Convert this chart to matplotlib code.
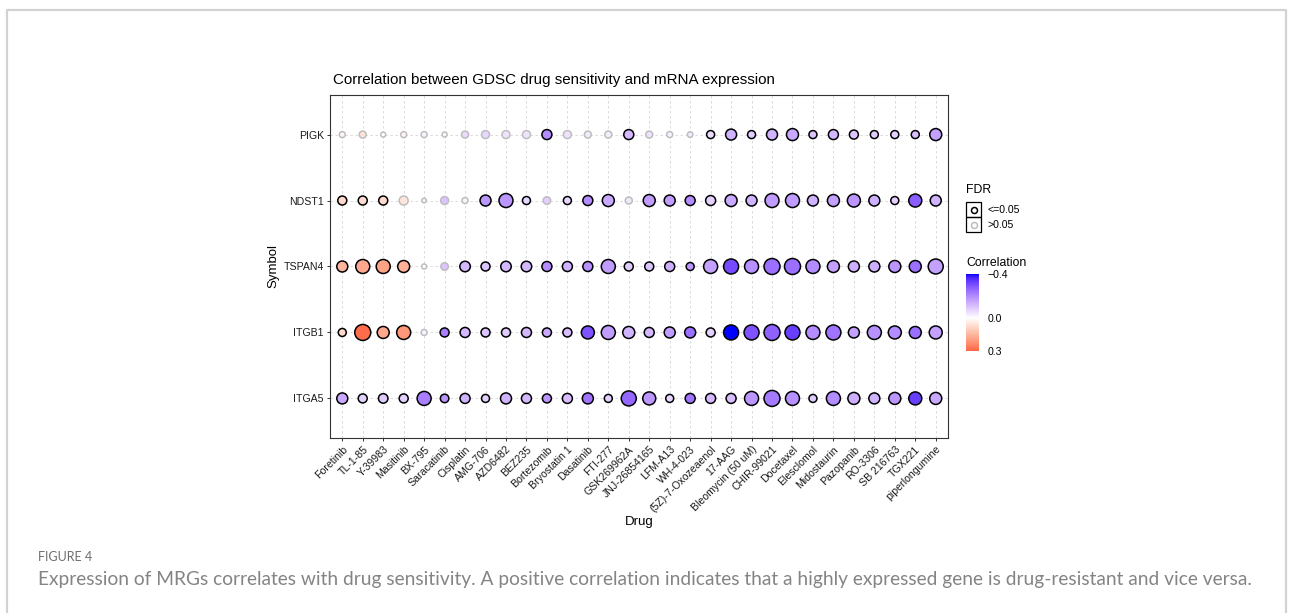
import numpy as np
import matplotlib.pyplot as plt
from matplotlib.colors import ListedColormap, Normalize
from matplotlib.patches import Rectangle

plt.rcParams['font.family'] = ['Liberation Sans', 'DejaVu Sans']

W, H = 1293, 613

drugs = ['Foretinib', 'TL-1-85', 'Y-39983', 'Masitinib', 'BX-795', 'Saracatinib',
         'Cisplatin', 'AMG-706', 'AZD6482', 'BEZ235', 'Bortezomib', 'Bryostatin 1',
         'Dasatinib', 'FTI-277', 'GSK269962A', 'JNJ-26854165', 'LFM-A13', 'WH-4-023',
         '(5Z)-7-Oxozeaenol', '17-AAG', 'Bleomycin (50 uM)', 'CHIR-99021', 'Docetaxel',
         'Elesclomol', 'Midostaurin', 'Pazopanib', 'RO-3306', 'SB 216763', 'TGX221',
         'piperlongumine']

# genes from bottom to top of the panel
genes = ['ITGA5', 'ITGB1', 'TSPAN4', 'NDST1', 'PIGK']

# Spearman correlation per gene
cor_itga5 = [-0.15, -0.08, -0.09, -0.08, -0.22, -0.18, -0.13, -0.08, -0.13, -0.12,
             -0.18, -0.11, -0.24, -0.08, -0.26, -0.18, -0.07, -0.24, -0.12, -0.11,
             -0.18, -0.23, -0.19, -0.09, -0.20, -0.14, -0.13, -0.18, -0.33, -0.15]
cor_itgb1 = [0.08, 0.29, 0.18, 0.21, -0.02, -0.22, -0.12, -0.10, -0.09, -0.12,
             -0.15, -0.11, -0.30, -0.17, -0.13, -0.12, -0.17, -0.25, -0.08, -0.40,
             -0.30, -0.27, -0.33, -0.20, -0.24, -0.16, -0.19, -0.20, -0.25, -0.16]
cor_tspan4 = [0.15, 0.18, 0.19, 0.16, 0.00, -0.10, -0.12, -0.10, -0.12, -0.12,
              -0.20, -0.13, -0.19, -0.17, -0.09, -0.10, -0.14, -0.18, -0.16, -0.31,
              -0.19, -0.25, -0.25, -0.20, -0.16, -0.14, -0.14, -0.18, -0.25, -0.16]
cor_ndst1 = [0.08, 0.07, 0.08, 0.05, -0.01, -0.10, -0.02, -0.18, -0.18, -0.07,
             -0.08, -0.07, -0.20, -0.15, -0.04, -0.17, -0.17, -0.20, -0.08, -0.15,
             -0.13, -0.17, -0.17, -0.13, -0.16, -0.18, -0.14, -0.08, -0.28, -0.13]
cor_pigk = [0.02, 0.06, 0.00, 0.02, -0.02, -0.01, -0.06, -0.07, -0.05, -0.05,
            -0.20, -0.05, -0.04, -0.03, -0.12, -0.05, -0.02, -0.03, -0.06, -0.13,
            -0.08, -0.13, -0.15, -0.10, -0.12, -0.10, -0.09, -0.08, -0.11, -0.16]

# -log10(P) per gene (point size)
logp_itga5 = [8.4, 6.0, 6.6, 6.0, 12.0, 5.4, 7.2, 4.8, 8.4, 7.2,
              6.0, 7.2, 8.4, 4.8, 13.2, 10.8, 4.8, 7.2, 7.2, 7.2,
              12.0, 14.4, 12.0, 4.8, 12.0, 9.6, 8.4, 9.6, 10.8, 9.6]
logp_itgb1 = [4.8, 14.4, 9.6, 12.0, 2.4, 6.0, 7.2, 6.0, 6.0, 7.2,
              6.0, 6.0, 10.8, 12.0, 9.6, 7.2, 8.4, 8.4, 6.0, 13.2,
              13.2, 14.4, 13.2, 12.0, 13.2, 8.4, 12.0, 10.8, 9.6, 10.8]
logp_tspan4 = [8.4, 12.0, 12.0, 9.6, 1.2, 4.2, 7.8, 6.0, 7.8, 7.8,
               7.2, 7.2, 7.2, 12.0, 6.0, 6.0, 7.2, 4.8, 12.0, 13.2,
               12.0, 14.4, 14.4, 12.0, 9.6, 8.4, 8.4, 9.6, 9.6, 13.2]
logp_ndst1 = [6.0, 6.0, 6.0, 6.0, 0.6, 4.8, 2.4, 8.4, 12.0, 4.8,
              4.2, 4.8, 7.2, 9.6, 3.6, 9.6, 8.4, 7.2, 7.2, 9.6,
              8.4, 12.0, 12.0, 8.4, 9.6, 10.8, 8.4, 4.8, 10.8, 8.4]
logp_pigk = [2.4, 3.6, 1.2, 2.4, 2.4, 1.2, 3.6, 4.8, 4.8, 4.8,
             7.2, 4.8, 3.6, 3.6, 7.2, 3.6, 2.4, 1.8, 4.8, 8.4,
             4.8, 8.4, 9.6, 4.8, 7.2, 6.0, 4.8, 4.8, 4.8, 9.6]

# FDR <= 0.05 (1) or > 0.05 (0)
sig_itga5 = [1] * 30
sig_itgb1 = [1, 1, 1, 1, 0] + [1] * 25
sig_tspan4 = [1, 1, 1, 1, 0, 0] + [1] * 24
sig_ndst1 = [1, 1, 1, 0, 0, 0, 0, 1, 1, 1,
             0, 1, 1, 1, 0, 1, 1, 1, 1, 1] + [1] * 10
sig_pigk = [0] * 10 + [1, 0, 0, 0, 1, 0, 0, 0, 1, 1] + [1] * 10

cors = [cor_itga5, cor_itgb1, cor_tspan4, cor_ndst1, cor_pigk]
logps = [logp_itga5, logp_itgb1, logp_tspan4, logp_ndst1, logp_pigk]
sigs = [sig_itga5, sig_itgb1, sig_tspan4, sig_ndst1, sig_pigk]


# blue - white - red gradient interpolated in Lab space
def to_lab(rgb):
    rgb = np.asarray(rgb, float)
    lin = np.where(rgb <= 0.04045, rgb / 12.92, ((rgb + 0.055) / 1.055) ** 2.4)
    m = np.array([[0.4124, 0.3576, 0.1805], [0.2126, 0.7152, 0.0722], [0.0193, 0.1192, 0.9505]])
    xyz = m @ lin / np.array([0.95047, 1.0, 1.08883])
    f = np.where(xyz > 0.008856, np.cbrt(xyz), 7.787 * xyz + 16 / 116)
    return np.array([116 * f[1] - 16, 500 * (f[0] - f[1]), 200 * (f[1] - f[2])])


def from_lab(lab):
    L, a, b = lab
    fy = (L + 16) / 116
    fx, fz = fy + a / 500, fy - b / 200
    f = np.array([fx, fy, fz])
    xyz = np.where(f ** 3 > 0.008856, f ** 3, (f - 16 / 116) / 7.787) * np.array([0.95047, 1.0, 1.08883])
    m = np.array([[3.2406, -1.5372, -0.4986], [-0.9689, 1.8758, 0.0415], [0.0557, -0.2040, 1.0570]])
    lin = np.clip(m @ xyz, 0, 1)
    return np.where(lin <= 0.0031308, 12.92 * lin, 1.055 * lin ** (1 / 2.4) - 0.055)


lab_blue, lab_white, lab_red = to_lab([0, 0, 1]), to_lab([1, 1, 1]), to_lab([1, 0, 0])
grad = []
for t in np.linspace(0, 1, 256):
    if t < 0.5:
        lab = lab_blue + (lab_white - lab_blue) * (t / 0.5)
    else:
        lab = lab_white + (lab_red - lab_white) * ((t - 0.5) / 0.5)
    grad.append(np.clip(from_lab(lab), 0, 1))
cmap = ListedColormap(grad)
norm = Normalize(vmin=-0.4, vmax=0.4)

fig = plt.figure(figsize=(W / 100, H / 100), dpi=100)

# background layer in pixel units: frame, caption, legend
over = fig.add_axes([0, 0, 1, 1])
over.set_xlim(0, W)
over.set_ylim(H, 0)
over.axis('off')
over.plot([7, 7, 1286, 1286], [H + 5, 10, 10, H + 5], color='#D2D2D2', lw=1.6)

ax = fig.add_axes([330 / W, 1 - 438 / H, 618 / W, 343 / H])
ax.set_zorder(2)
x = np.arange(len(drugs))
for i, gene in enumerate(genes):
    c = np.array(cors[i])
    diam = 4 + 12 * np.array(logps[i]) / 14.4
    edge = ['black' if s else '#BDBDBD' for s in sigs[i]]
    ax.scatter(x, np.full(len(drugs), i), s=(diam * 0.72) ** 2, c=cmap(norm(c)),
               edgecolors=edge, linewidths=1.1, zorder=3)

ax.set_xlim(-0.6, len(drugs) - 0.4)
ax.set_ylim(-0.6, len(genes) - 0.4)
ax.set_xticks(x)
ax.set_xticklabels(drugs, rotation=45, ha='right', va='top', rotation_mode='anchor', fontsize=7.6)
ax.set_yticks(np.arange(len(genes)))
ax.set_yticklabels(genes, fontsize=7.6)
ax.tick_params(length=2.5, width=0.7, color='#333333', pad=2, labelcolor='#1a1a1a')
ax.set_axisbelow(True)
ax.grid(True, ls=(0, (3, 3)), color='#D6D6D6', lw=0.6)
for sp in ax.spines.values():
    sp.set_color('#333333')
    sp.set_linewidth(0.8)

ax.set_title('Correlation between GDSC drug sensitivity and mRNA expression',
             loc='left', fontsize=10.9, pad=8, x=0.005)
ax.set_xlabel('Drug', fontsize=9.5)
ax.set_ylabel('Symbol', fontsize=9.5)
ax.xaxis.set_label_coords(0.5, -0.228)
ax.yaxis.set_label_coords(-0.082, 0.5)

# FDR legend
over.text(966, 190, 'FDR', fontsize=8.8, va='center')
for k, (lab, ec) in enumerate([('<=0.05', 'black'), ('>0.05', '#BDBDBD')]):
    y0 = 202 + 15 * k
    over.add_patch(Rectangle((966, y0), 15, 15, fill=False, ec='black', lw=0.9))
    over.scatter([973.5], [y0 + 7.5], s=(6 * 0.72) ** 2, fc='white', ec=ec, lw=1.1)
    over.text(988, y0 + 8, lab, fontsize=7.6, va='center')

# Correlation colour bar
over.text(966, 263, 'Correlation', fontsize=8.8, va='center')
cax = fig.add_axes([966 / W, 1 - 351 / H, 13 / W, 77 / H])
vals = np.linspace(-0.4, 0.3, 200)
cax.imshow(vals[:, None], aspect='auto', cmap=cmap, norm=norm,
           extent=(0, 1, 0.3, -0.4), origin='upper')
cax.set_ylim(0.3, -0.4)
cax.set_xticks([])
cax.yaxis.tick_right()
cax.set_yticks([-0.4, 0.0, 0.3])
cax.set_yticklabels(['\u22120.4', '0.0', '0.3'], fontsize=7.6)
cax.tick_params(length=0, pad=6)
for sp in cax.spines.values():
    sp.set_visible(False)

# caption
over.text(38, 557, 'FIGURE 4', fontsize=9, color='#6e6e6e', family='Lato', va='center')
over.text(38, 579, 'Expression of MRGs correlates with drug sensitivity. A positive correlation '
          'indicates that a highly expressed gene is drug-resistant and vice versa.',
          fontsize=13.8, color='#848484', family='Lato', va='center')

fig.savefig('out.png', dpi=100)
